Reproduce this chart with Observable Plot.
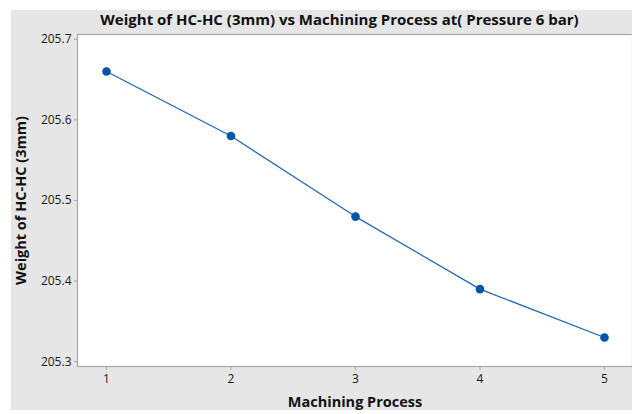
<!DOCTYPE html>
<html>
<head>
<meta charset="utf-8">
<script src="https://cdn.jsdelivr.net/npm/d3@7"></script>
<script src="https://cdn.jsdelivr.net/npm/@observablehq/plot@0.6"></script>
<style>
  html, body { margin: 0; padding: 0; background: #ffffff; overflow: hidden; }
  #wrap { position: relative; width: 632px; height: 414px; overflow: hidden; }
  #chart { position: absolute; left: 11px; top: 10px; }
</style>
</head>
<body>
<div id="wrap"><div id="chart"></div></div>
<script>
const processes = [1, 2, 3, 4, 5];
const weights = [205.66, 205.58, 205.48, 205.39, 205.33];
const yTicks = [205.3, 205.4, 205.5, 205.6, 205.7];
const xTicks = [1, 2, 3, 4, 5];
const title = "Weight of HC-HC (3mm) vs Machining Process at( Pressure 6 bar)";
const xLabel = "Machining Process";
const yLabel = "Weight of HC-HC (3mm)";

const data = processes.map((p, i) => ({process: p, weight: weights[i]}));

const font = "'Open Sans', 'Noto Sans', sans-serif";

const chart = Plot.plot({
  width: 621,
  height: 400,
  marginLeft: 66,
  marginRight: 0,
  marginTop: 24,
  marginBottom: 44,
  style: {background: "#e6e6e6", fontFamily: font, fontSize: "12px", color: "#1a1a1a"},
  x: {domain: [0.767, 5.225]},
  y: {domain: [205.294, 205.706]},
  marks: [
    Plot.frame({fill: "#ffffff", stroke: "#a8a8a8", strokeWidth: 1.2}),
    Plot.axisY({ticks: yTicks, tickFormat: d3.format(".1f"), tickSize: 3, tickPadding: 3, stroke: "#a8a8a8", label: null, fill: "#1a1a1a", fontSize: 12}),
    Plot.axisX({ticks: xTicks, tickFormat: d3.format("d"), tickSize: 4, tickPadding: 4, stroke: "#a8a8a8", label: null, fill: "#1a1a1a", fontSize: 12}),
    Plot.line(data, {x: "process", y: "weight", stroke: "#1f63b8", strokeWidth: 1.2}),
    Plot.dot(data, {x: "process", y: "weight", r: 4.3, fill: "#0054a6", stroke: "none"}),
    Plot.text([title], {text: d => d, frameAnchor: "top", textAnchor: "middle", dx: -15.5, dy: -14, fontWeight: "bold", fontSize: 15, fill: "#111", lineAnchor: "middle"}),
    Plot.text([xLabel], {text: d => d, frameAnchor: "bottom", textAnchor: "middle", dy: 36, fontWeight: "bold", fontSize: 14.5, fill: "#111", lineAnchor: "middle"}),
    Plot.text([yLabel], {text: d => d, frameAnchor: "left", textAnchor: "middle", dx: -56, rotate: -90, fontWeight: "bold", fontSize: 14.5, fill: "#111", lineAnchor: "middle"})
  ]
});
document.getElementById("chart").appendChild(chart);
</script>
</body>
</html>
